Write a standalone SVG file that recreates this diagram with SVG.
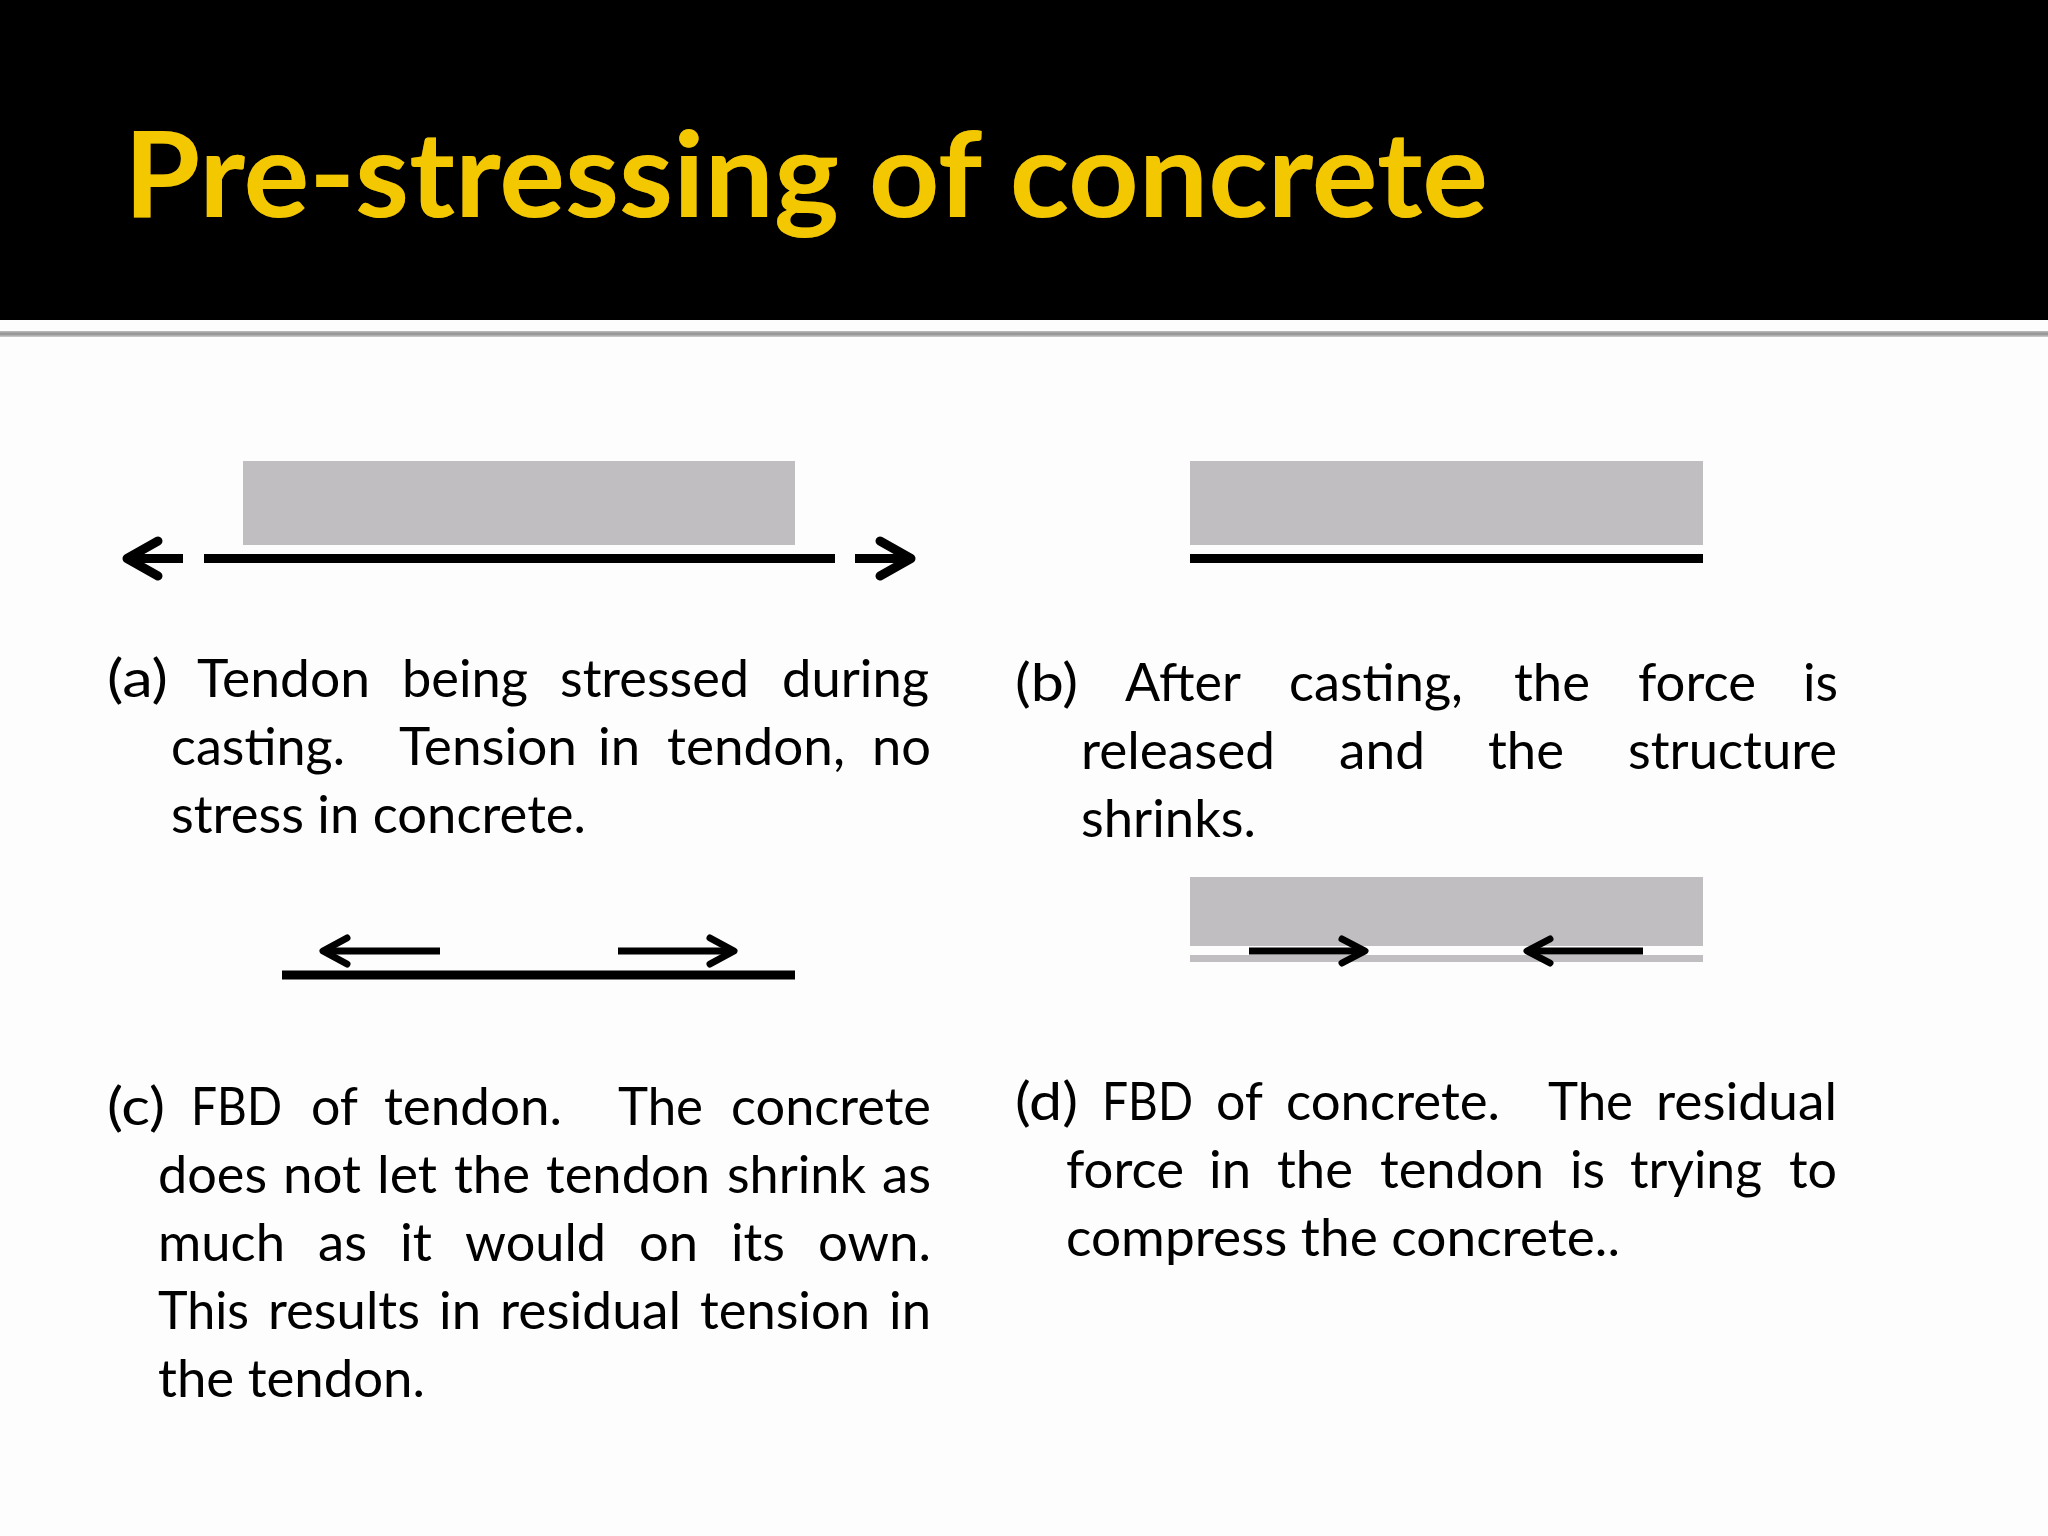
<svg xmlns="http://www.w3.org/2000/svg" width="2048" height="1536" viewBox="0 0 2048 1536">
<style>
.body{font-family:Lato,"Open Sans","Liberation Sans",sans-serif;font-size:53px;fill:#000}
.title{font-family:Lato,"Open Sans","Liberation Sans",sans-serif;font-weight:bold;font-size:118px;fill:#F4C800}
.concrete{fill:#C0BEC1}
.tendon{stroke:#000;stroke-width:9;fill:none}
.arr9{stroke:#000;stroke-width:9;fill:none;stroke-linecap:butt}
.arr7{stroke:#000;stroke-width:7;fill:none;stroke-linecap:butt}
.head9{stroke:#000;stroke-width:9;fill:none;stroke-linecap:round;stroke-linejoin:round}
.head7{stroke:#000;stroke-width:7;fill:none;stroke-linecap:round;stroke-linejoin:round}
</style>
<defs>
<linearGradient id="rule" x1="0" y1="0" x2="0" y2="1">
<stop offset="0" stop-color="#bdbdbd"/>
<stop offset="0.5" stop-color="#8f8f8f"/>
<stop offset="1" stop-color="#d0d0d0"/>
</linearGradient>
<filter id="glow" x="-5%" y="-20%" width="110%" height="140%">
<feGaussianBlur in="SourceAlpha" stdDeviation="2"/>
<feFlood flood-color="#7a5a00" flood-opacity="0.6"/>
<feComposite operator="in" in2="SourceAlpha"/>
<feMerge><feMergeNode/><feMergeNode in="SourceGraphic"/></feMerge>
</filter>
</defs>
<rect x="0" y="0" width="2048" height="1536" fill="#fdfdfd"/>
<g id="header">
<rect x="0" y="0" width="2048" height="320" fill="#000"/>
<rect x="0" y="331" width="2048" height="6" fill="url(#rule)"/>
<text class="title" x="124" y="217" textLength="1364" lengthAdjust="spacingAndGlyphs" filter="url(#glow)">Pre-stressing of concrete</text>
</g>
<g id="panel-a">
<rect class="concrete" x="243" y="461" width="552" height="84"/>
<line class="tendon" x1="204" y1="558.5" x2="835" y2="558.5"/>
<text class="body" y="697" lengthAdjust="spacingAndGlyphs"><tspan x="107" textLength="61" lengthAdjust="spacingAndGlyphs">(a)</tspan><tspan x="197" textLength="173" lengthAdjust="spacingAndGlyphs">Tendon</tspan><tspan x="402" textLength="126" lengthAdjust="spacingAndGlyphs">being</tspan><tspan x="560" textLength="189" lengthAdjust="spacingAndGlyphs">stressed</tspan><tspan x="782" textLength="147" lengthAdjust="spacingAndGlyphs">during</tspan></text>
<text class="body" y="765"><tspan x="171" textLength="174" lengthAdjust="spacingAndGlyphs">casting.</tspan><tspan x="399" textLength="178" lengthAdjust="spacingAndGlyphs">Tension</tspan><tspan x="598" textLength="42" lengthAdjust="spacingAndGlyphs">in</tspan><tspan x="667" textLength="178" lengthAdjust="spacingAndGlyphs">tendon,</tspan><tspan x="872" textLength="59" lengthAdjust="spacingAndGlyphs">no</tspan></text>
<text class="body" x="171" y="833" textLength="415" lengthAdjust="spacingAndGlyphs">stress in concrete.</text>
</g>
<g id="panel-b">
<rect class="concrete" x="1190" y="461" width="513" height="84"/>
<rect x="1190" y="554" width="513" height="9" fill="#000"/>
<text class="body" y="701"><tspan x="1015" textLength="63" lengthAdjust="spacingAndGlyphs">(b)</tspan><tspan x="1125" textLength="116" lengthAdjust="spacingAndGlyphs">After</tspan><tspan x="1289" textLength="174" lengthAdjust="spacingAndGlyphs">casting,</tspan><tspan x="1514" textLength="76" lengthAdjust="spacingAndGlyphs">the</tspan><tspan x="1638" textLength="118" lengthAdjust="spacingAndGlyphs">force</tspan><tspan x="1803" textLength="35" lengthAdjust="spacingAndGlyphs">is</tspan></text>
<text class="body" y="769"><tspan x="1081" textLength="194" lengthAdjust="spacingAndGlyphs">released</tspan><tspan x="1339" textLength="86" lengthAdjust="spacingAndGlyphs">and</tspan><tspan x="1488" textLength="76" lengthAdjust="spacingAndGlyphs">the</tspan><tspan x="1628" textLength="209" lengthAdjust="spacingAndGlyphs">structure</tspan></text>
<text class="body" x="1081" y="837" textLength="175" lengthAdjust="spacingAndGlyphs">shrinks.</text>
</g>
<g id="panel-c">
<line class="tendon" x1="282" y1="975" x2="795" y2="975"/>
<text class="body" y="1125"><tspan x="107" textLength="58" lengthAdjust="spacingAndGlyphs">(c)</tspan><tspan x="191" textLength="91" lengthAdjust="spacingAndGlyphs">FBD</tspan><tspan x="311" textLength="47" lengthAdjust="spacingAndGlyphs">of</tspan><tspan x="384" textLength="178" lengthAdjust="spacingAndGlyphs">tendon.</tspan><tspan x="618" textLength="85" lengthAdjust="spacingAndGlyphs">The</tspan><tspan x="731" textLength="200" lengthAdjust="spacingAndGlyphs">concrete</tspan></text>
<text class="body" y="1193"><tspan x="158" textLength="109" lengthAdjust="spacingAndGlyphs">does</tspan><tspan x="283" textLength="78" lengthAdjust="spacingAndGlyphs">not</tspan><tspan x="377" textLength="60" lengthAdjust="spacingAndGlyphs">let</tspan><tspan x="454" textLength="76" lengthAdjust="spacingAndGlyphs">the</tspan><tspan x="546" textLength="164" lengthAdjust="spacingAndGlyphs">tendon</tspan><tspan x="727" textLength="139" lengthAdjust="spacingAndGlyphs">shrink</tspan><tspan x="882" textLength="49" lengthAdjust="spacingAndGlyphs">as</tspan></text>
<text class="body" y="1261"><tspan x="158" textLength="127" lengthAdjust="spacingAndGlyphs">much</tspan><tspan x="318" textLength="49" lengthAdjust="spacingAndGlyphs">as</tspan><tspan x="400" textLength="32" lengthAdjust="spacingAndGlyphs">it</tspan><tspan x="465" textLength="141" lengthAdjust="spacingAndGlyphs">would</tspan><tspan x="639" textLength="59" lengthAdjust="spacingAndGlyphs">on</tspan><tspan x="731" textLength="54" lengthAdjust="spacingAndGlyphs">its</tspan><tspan x="818" textLength="113" lengthAdjust="spacingAndGlyphs">own.</tspan></text>
<text class="body" y="1329"><tspan x="158" textLength="91" lengthAdjust="spacingAndGlyphs">This</tspan><tspan x="268" textLength="152" lengthAdjust="spacingAndGlyphs">results</tspan><tspan x="439" textLength="42" lengthAdjust="spacingAndGlyphs">in</tspan><tspan x="500" textLength="181" lengthAdjust="spacingAndGlyphs">residual</tspan><tspan x="700" textLength="170" lengthAdjust="spacingAndGlyphs">tension</tspan><tspan x="889" textLength="42" lengthAdjust="spacingAndGlyphs">in</tspan></text>
<text class="body" x="158" y="1397" textLength="267" lengthAdjust="spacingAndGlyphs">the tendon.</text>
</g>
<g id="panel-d">
<rect class="concrete" x="1190" y="877" width="513" height="69"/>
<rect class="concrete" x="1190" y="955" width="513" height="7"/>
<text class="body" y="1120"><tspan x="1015" textLength="63" lengthAdjust="spacingAndGlyphs">(d)</tspan><tspan x="1102" textLength="91" lengthAdjust="spacingAndGlyphs">FBD</tspan><tspan x="1216" textLength="47" lengthAdjust="spacingAndGlyphs">of</tspan><tspan x="1286" textLength="214" lengthAdjust="spacingAndGlyphs">concrete.</tspan><tspan x="1548" textLength="85" lengthAdjust="spacingAndGlyphs">The</tspan><tspan x="1656" textLength="181" lengthAdjust="spacingAndGlyphs">residual</tspan></text>
<text class="body" y="1188"><tspan x="1066" textLength="118" lengthAdjust="spacingAndGlyphs">force</tspan><tspan x="1209" textLength="42" lengthAdjust="spacingAndGlyphs">in</tspan><tspan x="1277" textLength="76" lengthAdjust="spacingAndGlyphs">the</tspan><tspan x="1380" textLength="164" lengthAdjust="spacingAndGlyphs">tendon</tspan><tspan x="1570" textLength="35" lengthAdjust="spacingAndGlyphs">is</tspan><tspan x="1630" textLength="132" lengthAdjust="spacingAndGlyphs">trying</tspan><tspan x="1789" textLength="48" lengthAdjust="spacingAndGlyphs">to</tspan></text>
<text class="body" x="1066" y="1256" textLength="554" lengthAdjust="spacingAndGlyphs">compress the concrete..</text>
</g>
<g id="connectors">
<line class="arr9" x1="129" y1="558.5" x2="183" y2="558.5"/>
<polyline class="head9" points="158,541 127,558.5 158,576"/>
<line class="arr9" x1="855" y1="558.5" x2="909" y2="558.5"/>
<polyline class="head9" points="880,541 911,558.5 880,576"/>
<line class="arr7" x1="325" y1="951" x2="440" y2="951"/>
<polyline class="head7" points="347,938 323,951 347,964"/>
<line class="arr7" x1="618" y1="951" x2="731" y2="951"/>
<polyline class="head7" points="710,938 734,951 710,964"/>
<line class="arr7" x1="1249" y1="951" x2="1362" y2="951"/>
<polyline class="head7" points="1342,939 1365,951 1342,963"/>
<line class="arr7" x1="1530" y1="951" x2="1643" y2="951"/>
<polyline class="head7" points="1550,939 1527,951 1550,963"/>
</g>
</svg>
